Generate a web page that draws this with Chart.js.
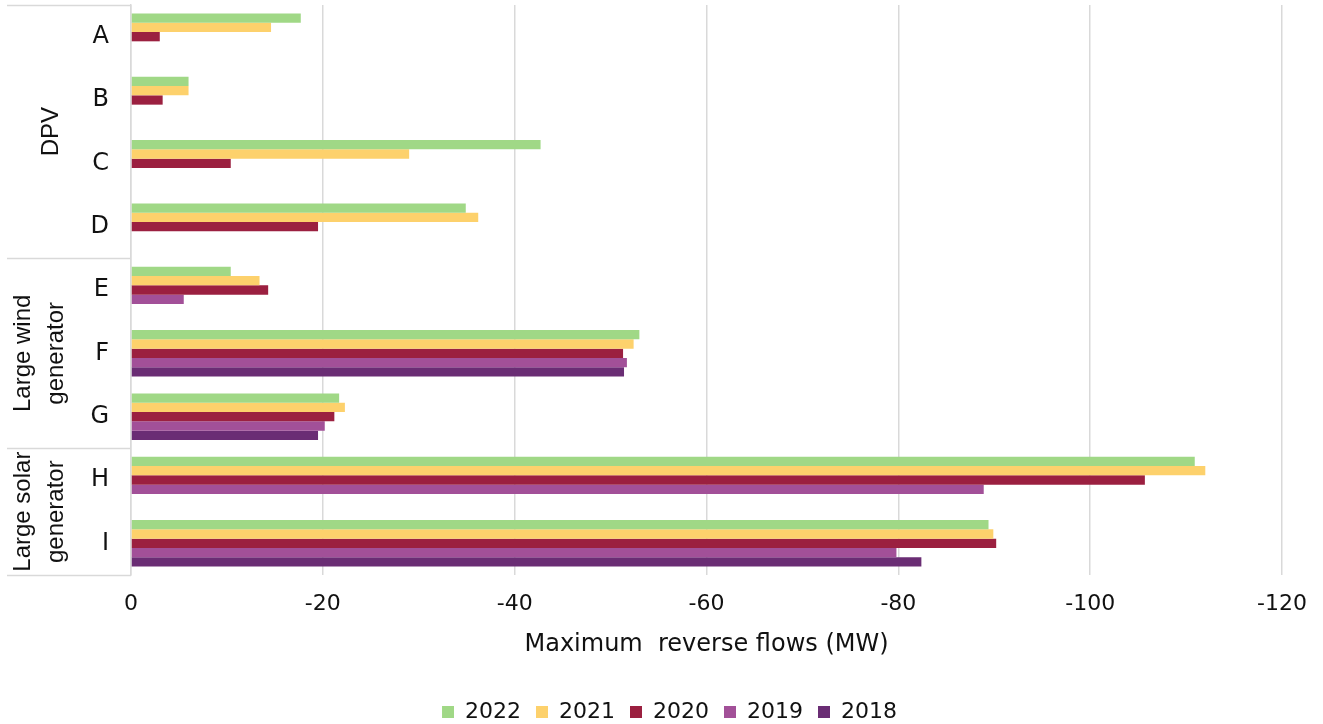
<!DOCTYPE html>
<html><head><meta charset="utf-8">
<script src="https://cdn.jsdelivr.net/npm/chart.js@4"></script>
<style>html,body{margin:0;padding:0;background:#fff}#wrap{width:1323px;height:724px;position:relative}</style>
</head><body><div id="wrap"><canvas id="c" width="1323" height="724"></canvas></div>
<script>
const categories = ['A','B','C','D','E','F','G','H','I'];
const groupNames = [['DPV'], ['Large wind','generator'], ['Large solar','generator']];
const groupStart = [0, 4, 7];
const groupEnd = [3, 6, 8];
const years = ['2022','2021','2020','2019','2018'];
const v2022 = [-17.7,-6.0,-42.7,-34.9,-10.4,-53.0,-21.7,-110.9,-89.4];
const v2021 = [-14.6,-6.0,-29.0,-36.2,-13.4,-52.4,-22.3,-112.0,-89.9];
const v2020 = [-3.0,-3.3,-10.4,-19.5,-14.3,-51.3,-21.2,-105.7,-90.2];
const v2019 = [null,null,null,null,-5.5,-51.7,-20.2,-88.9,-79.8];
const v2018 = [null,null,null,null,null,-51.4,-19.5,null,-82.4];
const xMin = -120, xMax = 0, xStep = 20;
const axisTitle = 'Maximum  reverse flows (MW)';
const series = [v2022, v2021, v2020, v2019, v2018];
const colors = ['#A0D886','#FDD16C','#9B2040','#A25098','#6A2D74'];

const TXT = '#111';
const GRID = '#D9D9D9';

const groupPlugin = {
  id: 'groups',
  afterDraw(chart) {
    const ctx = chart.ctx;
    const y = chart.scales.y;
    const area = chart.chartArea;
    const x0 = 7;
    ctx.save();
    ctx.strokeStyle = GRID;
    ctx.lineWidth = 1.5;
    const bounds = [area.top];
    for (let g = 0; g < groupStart.length - 1; g++) {
      bounds.push((y.getPixelForValue(groupEnd[g]) + y.getPixelForValue(groupStart[g + 1])) / 2);
    }
    bounds.push(area.bottom);
    bounds.forEach(b => {
      ctx.beginPath();
      ctx.moveTo(x0, Math.round(b) + 0.5);
      ctx.lineTo(area.left, Math.round(b) + 0.5);
      ctx.stroke();
    });
    ctx.fillStyle = TXT;
    ctx.font = '24px "Liberation Sans", Arial, sans-serif';
    ctx.textAlign = 'center';
    ctx.textBaseline = 'middle';
    groupNames.forEach((lines, g) => {
      const cy = (y.getPixelForValue(groupStart[g]) + y.getPixelForValue(groupEnd[g])) / 2;
      const cx = lines.length === 1 ? 51 : 39.5;
      ctx.save();
      ctx.translate(cx, cy);
      ctx.rotate(-Math.PI / 2);
      const lh = 33;
      lines.forEach((t, i) => {
        ctx.fillText(t, 0, (i - (lines.length - 1) / 2) * lh);
      });
      ctx.restore();
    });
    ctx.restore();
  }
};

const PAD_BOTTOM = -9;
const CHART_BOTTOM = 575;

new Chart(document.getElementById('c'), {
  type: 'bar',
  data: {
    labels: categories,
    datasets: years.map((yr, i) => ({
      label: yr,
      data: series[i],
      backgroundColor: colors[i],
      borderWidth: 0,
      categoryPercentage: 0.735,
      barPercentage: 1.0
    }))
  },
  options: {
    responsive: false,
    animation: false,
    devicePixelRatio: 1,
    indexAxis: 'y',
    layout: { padding: { left: 56, right: 40, top: 5, bottom: PAD_BOTTOM } },
    plugins: {
      legend: {
        position: 'bottom',
        labels: {
          boxWidth: 12, boxHeight: 12, padding: 15,
          font: { family: 'DejaVu Sans', size: 22 }, color: TXT
        }
      },
      tooltip: { enabled: false }
    },
    scales: {
      x: {
        type: 'linear', min: xMin, max: xMax, reverse: true,
        ticks: { stepSize: xStep, font: { family: 'DejaVu Sans', size: 22 }, color: TXT, padding: 16 },
        grid: { color: GRID, lineWidth: 1.5, drawTicks: false },
        border: { display: false },
        title: { display: true, text: axisTitle, font: { family: 'DejaVu Sans', size: 24 }, color: TXT, padding: { top: 0, bottom: 27 } },
        afterFit(s) {
          const L = s.chart.legend ? s.chart.legend.height : 0;
          s.height = 724 - PAD_BOTTOM - L - CHART_BOTTOM;
        }
      },
      y: {
        ticks: { font: { family: 'DejaVu Sans', size: 24 }, color: TXT, padding: 0 },
        grid: { display: true, drawOnChartArea: false, drawTicks: true, tickLength: 22, tickColor: 'rgba(0,0,0,0)' },
        border: { display: true, color: GRID, width: 1.5 },
        afterFit(s) { s.width = 75; s.paddingTop = 0; s.paddingBottom = 0; }
      }
    }
  },
  plugins: [groupPlugin]
});
</script>
</body></html>
